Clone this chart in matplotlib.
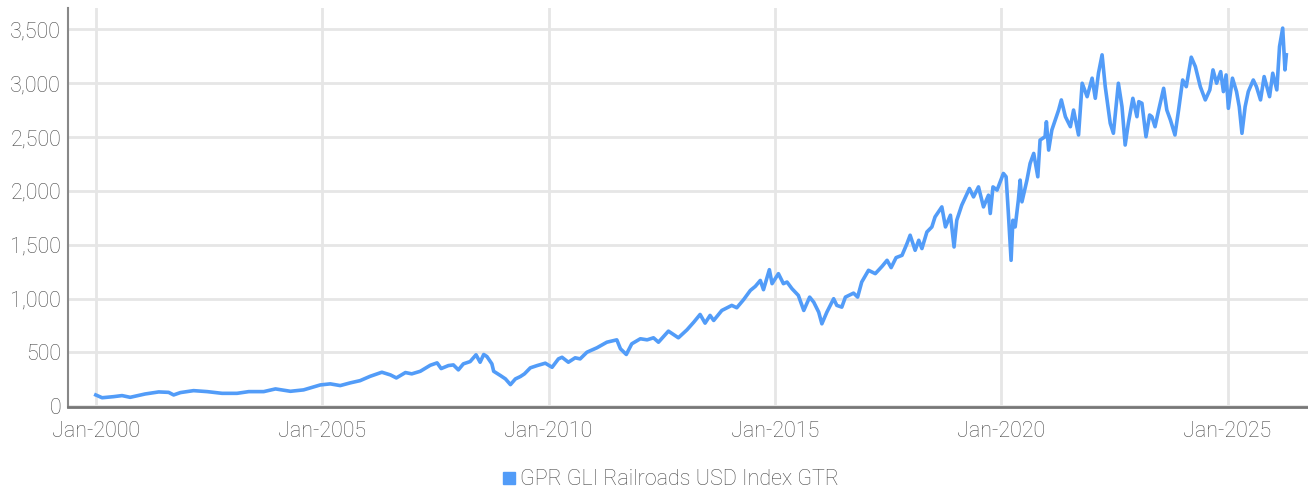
import numpy as np
import pandas as pd
import matplotlib
matplotlib.use('Agg')
import matplotlib.pyplot as plt
import matplotlib.dates as mdates
from matplotlib.lines import Line2D

# 讀圖估計的數值 (decimal year, index level)
years = [
    2000.00, 2000.14, 2000.39, 2000.58, 2000.76, 2001.09, 2001.39, 2001.61, 2001.72, 2001.87,
    2002.16, 2002.46, 2002.79, 2003.12, 2003.38, 2003.71, 2003.97, 2004.30, 2004.59, 2004.78,
    2004.96, 2005.18, 2005.40, 2005.62, 2005.84, 2006.06, 2006.32, 2006.51, 2006.64, 2006.84,
    2006.98, 2007.17, 2007.39, 2007.54, 2007.63, 2007.79, 2007.90, 2008.01, 2008.12, 2008.27,
    2008.40, 2008.49, 2008.57, 2008.64, 2008.75, 2008.79, 2008.94, 2009.05, 2009.16, 2009.27,
    2009.38, 2009.47, 2009.60, 2009.75, 2009.93, 2010.08, 2010.22, 2010.30, 2010.44, 2010.59,
    2010.70, 2010.85, 2011.07, 2011.29, 2011.51, 2011.59, 2011.72, 2011.84, 2012.03, 2012.18,
    2012.32, 2012.43, 2012.65, 2012.87, 2013.06, 2013.21, 2013.35, 2013.46, 2013.57, 2013.65,
    2013.83, 2014.05, 2014.16, 2014.31, 2014.46, 2014.57, 2014.68, 2014.75, 2014.88, 2014.94,
    2015.08, 2015.19, 2015.27, 2015.38, 2015.52, 2015.64, 2015.77, 2015.86, 2015.97, 2016.04,
    2016.15, 2016.30, 2016.37, 2016.48, 2016.56, 2016.74, 2016.83, 2016.92, 2017.07, 2017.22,
    2017.37, 2017.48, 2017.57, 2017.68, 2017.81, 2017.92, 2017.99, 2018.10, 2018.18, 2018.25,
    2018.36, 2018.47, 2018.54, 2018.69, 2018.77, 2018.88, 2018.96, 2019.02, 2019.13, 2019.30,
    2019.39, 2019.50, 2019.61, 2019.72, 2019.76, 2019.82, 2019.91, 2020.05, 2020.11, 2020.16,
    2020.22, 2020.26, 2020.31, 2020.38, 2020.42, 2020.46, 2020.57, 2020.64, 2020.72, 2020.81,
    2020.86, 2020.97, 2021.00, 2021.05, 2021.12, 2021.27, 2021.33, 2021.42, 2021.53, 2021.60,
    2021.71, 2021.79, 2021.90, 2022.01, 2022.08, 2022.15, 2022.23, 2022.30, 2022.41, 2022.48,
    2022.59, 2022.67, 2022.74, 2022.81, 2022.91, 2023.00, 2023.04, 2023.11, 2023.20, 2023.28,
    2023.33, 2023.40, 2023.48, 2023.59, 2023.66, 2023.74, 2023.84, 2023.92, 2024.01, 2024.09,
    2024.20, 2024.29, 2024.40, 2024.51, 2024.61, 2024.68, 2024.76, 2024.85, 2024.91, 2024.97,
    2025.02, 2025.11, 2025.20, 2025.26, 2025.32, 2025.39, 2025.46, 2025.57, 2025.64, 2025.73,
    2025.81, 2025.93, 2026.00, 2026.09, 2026.15, 2026.22, 2026.27, 2026.30,
]
values = [
    104, 78, 88, 98, 82, 113, 132, 128, 104, 126,
    144, 135, 119, 119, 135, 135, 160, 138, 151, 175,
    197, 207, 191, 216, 237, 277, 315, 290, 262, 312,
    300, 324, 380, 402, 349, 377, 383, 337, 393, 414,
    477, 408, 480, 461, 393, 324, 284, 253, 200, 253,
    275, 300, 356, 377, 399, 361, 439, 454, 408, 449,
    439, 501, 542, 594, 616, 533, 480, 579, 626, 616,
    635, 594, 697, 635, 709, 780, 852, 771, 843, 796,
    889, 936, 914, 989, 1075, 1113, 1168, 1082, 1268, 1138,
    1231, 1138, 1153, 1091, 1029, 889, 1013, 966, 873, 765,
    873, 998, 936, 920, 1013, 1050, 1013, 1153, 1262, 1231,
    1299, 1355, 1287, 1380, 1401, 1510, 1588, 1448, 1541, 1464,
    1618, 1665, 1758, 1851, 1665, 1774, 1479, 1727, 1867, 2022,
    1944, 2037, 1851, 1960, 1790, 2037, 2007, 2162, 2131, 1790,
    1355, 1727, 1665, 1913, 2100, 1898, 2100, 2255, 2348, 2131,
    2472, 2503, 2642, 2379, 2565, 2751, 2845, 2689, 2596, 2751,
    2519, 3000, 2875, 3047, 2860, 3093, 3264, 2968, 2628, 2535,
    3000, 2782, 2426, 2628, 2860, 2689, 2829, 2814, 2503, 2705,
    2689, 2596, 2751, 2953, 2751, 2658, 2519, 2751, 3030, 2968,
    3242, 3155, 2968, 2845, 2938, 3124, 3000, 3108, 2922, 3077,
    2767, 3047, 2922, 2782, 2535, 2782, 2922, 3030, 2968, 2845,
    3062, 2875, 3093, 2938, 3341, 3512, 3124, 3264,
]
series_name = 'GPR GLI Railroads USD Index GTR'
yticks = [0, 500, 1000, 1500, 2000, 2500, 3000, 3500]

plt.rcParams['font.family'] = ['Roboto', 'DejaVu Sans']
plt.rcParams['font.weight'] = 'light'

# 小數年份轉日期
dates = pd.to_datetime('2000-01-01') + pd.to_timedelta(np.array(years) - 2000, unit='D') * 365.25

fig = plt.figure(figsize=(13.08, 4.93), dpi=100)
ax = fig.add_axes([0.052, 0.174, 0.948, 0.81])

line_color = '#529cf8'
ax.plot(dates, values, color=line_color, lw=2.6, solid_joinstyle='round')

ax.set_ylim(-10, 3700)
ax.set_xlim(pd.Timestamp('1999-05-22'), pd.Timestamp('2026-10-12'))
ax.set_yticks(yticks)
ax.set_yticklabels([f'{v:,}' for v in yticks])
ax.xaxis.set_major_locator(mdates.YearLocator(5))
ax.xaxis.set_major_formatter(mdates.DateFormatter('%b-%Y'))

ax.grid(True, color='#e6e6e6', lw=2)
ax.set_axisbelow(True)
ax.tick_params(length=0, labelsize=15.5, labelcolor='#4a4a4a')
ax.tick_params(axis='y', pad=5)
ax.tick_params(axis='x', pad=10)
for s in ['top', 'right']:
    ax.spines[s].set_visible(False)
ax.spines['left'].set_color('#888888')
ax.spines['left'].set_linewidth(1.5)
ax.spines['bottom'].set_color('#777777')
ax.spines['bottom'].set_linewidth(2)

handle = Line2D([], [], color=line_color, marker='s', ls='none', markersize=9)
fig.legend([handle], [series_name], loc='center', bbox_to_anchor=(0.512, 0.027),
           frameon=False, fontsize=15.5, labelcolor='#4a4a4a', handletextpad=0.1,
           handlelength=0.8)

fig.savefig('out.png', dpi=100)
